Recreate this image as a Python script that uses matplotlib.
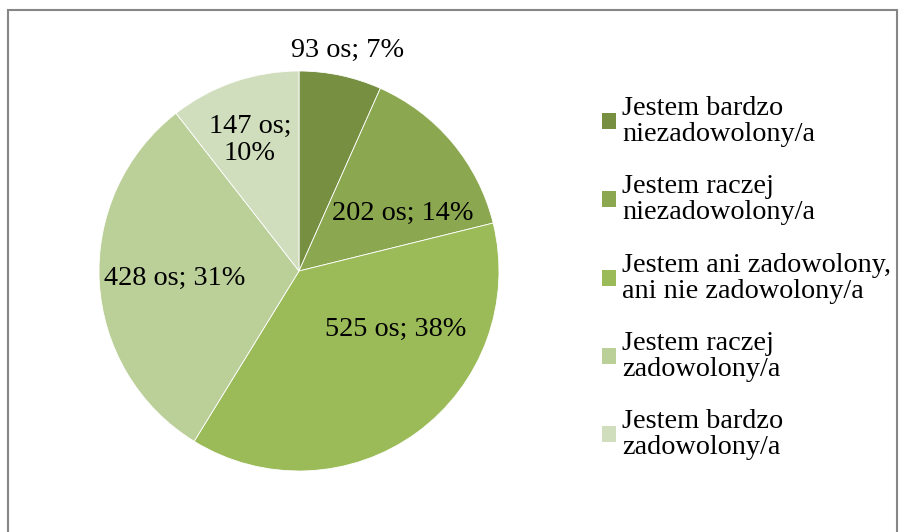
import matplotlib.pyplot as plt
from matplotlib.patches import Rectangle, Patch

# dane
kategorie = ['Jestem bardzo\nniezadowolony/a',
             'Jestem raczej\nniezadowolony/a',
             'Jestem ani zadowolony,\nani nie zadowolony/a',
             'Jestem raczej\nzadowolony/a',
             'Jestem bardzo\nzadowolony/a']
liczby = [93, 202, 525, 428, 147]
procenty = [7, 14, 38, 31, 10]
kolory = ['#768F41', '#8BA74F', '#9BBB59', '#BBCF98', '#D1DEBD']

plt.rcParams['font.family'] = ['Liberation Serif', 'DejaVu Serif']

fig = plt.figure(figsize=(9.05, 5.32), dpi=100)
fig.patch.set_facecolor('white')

# ramka wykresu
fig.patches.append(Rectangle((8 / 905, -0.1), 889 / 905, (522 / 532) + 0.1,
                             transform=fig.transFigure, fill=False,
                             edgecolor='#868686', linewidth=1.5))

ax = fig.add_axes([(299 - 200) / 905, (261 - 200) / 532, 400 / 905, 400 / 532])
wedges, _ = ax.pie(liczby, colors=kolory, startangle=90, counterclock=False,
                   radius=1.0, wedgeprops=dict(edgecolor='white', linewidth=0.6))
ax.set_xlim(-1, 1)
ax.set_ylim(-1, 1)
ax.set_aspect('equal')
ax.axis('off')

# pozycje etykiet
pozycje = [(0.245, 1.105), (0.52, 0.29), (0.485, -0.29), (-0.62, -0.035), (-0.245, 0.655)]
for i, (x, y) in enumerate(pozycje):
    if i == 4:
        txt = f'{liczby[i]} os;\n{procenty[i]}%'
    else:
        txt = f'{liczby[i]} os; {procenty[i]}%'
    ax.text(x, y, txt, ha='center', va='center', fontsize=20.3, color='black',
            linespacing=1.1, clip_on=False)

uchwyty = [Patch(facecolor=c, edgecolor='none') for c in kolory]
leg = fig.legend(uchwyty, kategorie, loc='upper left',
                 bbox_to_anchor=(602 / 905, (532 - 96) / 532), frameon=False,
                 fontsize=20.3, handlelength=0.5, handleheight=0.5, handletextpad=0.22,
                 labelspacing=0.97, borderpad=0, borderaxespad=0)
for t in leg.get_texts():
    t.set_linespacing(1.05)

fig.savefig('out.png', dpi=100, facecolor='white')
